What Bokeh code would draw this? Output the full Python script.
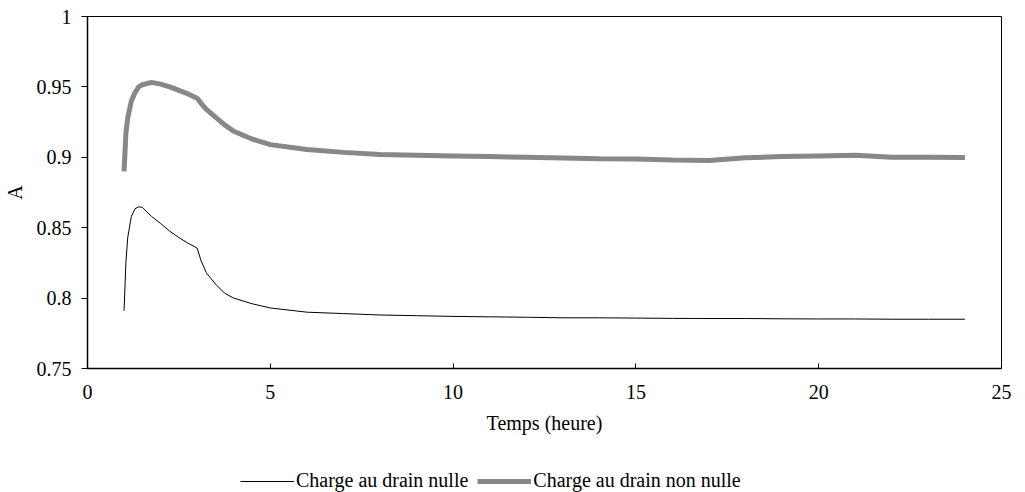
from bokeh.plotting import figure
from bokeh.models import Range1d, FixedTicker, Legend, LegendItem
from bokeh.layouts import column
from bokeh.embed import file_html
from bokeh.resources import INLINE

# Data
temps = [1.0, 1.05, 1.1, 1.2, 1.3, 1.4, 1.5, 1.75, 2.0, 2.25, 2.5, 2.75, 3.0, 3.1, 3.25, 3.5, 3.75,
         4.0, 4.5, 5, 6, 7, 8, 9, 10, 11, 12, 13, 14, 15, 16, 17, 18, 19, 20, 21, 22, 23, 24]
drain_nulle = [0.791, 0.825, 0.843, 0.858, 0.8635, 0.8648, 0.8645, 0.858, 0.853, 0.8475, 0.843, 0.839,
               0.8355, 0.827, 0.818, 0.810, 0.8035, 0.800, 0.796, 0.793, 0.790, 0.789, 0.788, 0.7875,
               0.787, 0.7867, 0.7864, 0.786, 0.786, 0.7858, 0.7856, 0.7855, 0.7855, 0.7853, 0.7852,
               0.7852, 0.785, 0.785, 0.785]
drain_non_nulle = [0.890, 0.917, 0.928, 0.940, 0.946, 0.950, 0.9515, 0.9532, 0.952, 0.950, 0.9475, 0.945,
                   0.942, 0.9385, 0.934, 0.9285, 0.923, 0.9185, 0.913, 0.909, 0.9055, 0.9035, 0.902, 0.9015,
                   0.901, 0.9005, 0.900, 0.8995, 0.899, 0.8988, 0.898, 0.8977, 0.8996, 0.9005, 0.901,
                   0.9015, 0.900, 0.900, 0.8998]
x_ticks = [0, 5, 10, 15, 20, 25]
y_ticks = [0.75, 0.8, 0.85, 0.9, 0.95, 1.0]
y_tick_labels = ["0.75", "0.8", "0.85", "0.9", "0.95", "1"]
series_names = ["Charge au drain nulle", "Charge au drain non nulle"]

FONT = "Liberation Serif"
FS = "20px"
GRAY = "#888888"

p = figure(width=1012, height=448, output_backend="svg", toolbar_location=None,
           x_range=Range1d(0, 25), y_range=Range1d(0.75, 1.0),
           min_border_left=80, min_border_right=11, min_border_top=16, min_border_bottom=80)

p.background_fill_color = "white"
p.border_fill_color = "white"
p.outline_line_color = "black"
p.outline_line_width = 1
p.xgrid.visible = False
p.ygrid.visible = False

p.line(temps, drain_nulle, line_color="black", line_width=1)
p.line(temps, drain_non_nulle, line_color=GRAY, line_width=5)

p.xaxis.ticker = FixedTicker(ticks=x_ticks)
p.yaxis.ticker = FixedTicker(ticks=y_ticks)
p.yaxis.major_label_overrides = {t: l for t, l in zip(y_ticks, y_tick_labels)}
p.xaxis.major_label_overrides = {t: str(t) for t in x_ticks}

for ax in (p.xaxis[0], p.yaxis[0]):
    ax.axis_line_color = "black"
    ax.axis_line_width = 1.5
    ax.major_tick_line_color = "black"
    ax.minor_tick_line_color = None
    ax.major_label_text_font = FONT
    ax.major_label_text_font_size = FS
    ax.major_label_text_color = "black"
    ax.axis_label_text_font = FONT
    ax.axis_label_text_font_size = FS
    ax.axis_label_text_font_style = "normal"
    ax.axis_label_text_color = "black"

p.xaxis.major_tick_in = 5
p.xaxis.major_tick_out = 0
p.xaxis.major_label_standoff = 16
p.xaxis.axis_label = "Temps (heure)"
p.xaxis.axis_label_standoff = 10

p.yaxis.major_tick_in = 0
p.yaxis.major_tick_out = 6
p.yaxis.major_label_standoff = 10
p.yaxis.axis_label = "A"
p.yaxis.axis_label_standoff = 8

# Legend strip below the chart
lg = figure(width=1012, height=44, output_backend="svg", toolbar_location=None,
            x_range=Range1d(0, 1), y_range=Range1d(0, 1),
            min_border_left=0, min_border_right=0, min_border_top=0, min_border_bottom=0)
lg.axis.visible = False
lg.xgrid.visible = False
lg.ygrid.visible = False
lg.outline_line_color = None
lg.background_fill_color = "white"
lg.border_fill_color = "white"
# proxy renderers (outside the visible range) that only feed the legend
d1 = lg.line([-5, -4], [-5, -4], line_color="black", line_width=1)
d2 = lg.line([-5, -4], [-5, -4], line_color=GRAY, line_width=5)

legend = Legend(items=[LegendItem(label=series_names[0], renderers=[d1]),
                       LegendItem(label=series_names[1], renderers=[d2])],
                orientation="horizontal", location=(153, 0))
legend.label_text_font = FONT
legend.label_text_font_size = FS
legend.label_text_color = "black"
legend.glyph_width = 54
legend.glyph_height = 20
legend.label_standoff = 2
legend.spacing = 9
legend.padding = 0
legend.margin = 0
legend.border_line_color = None
legend.background_fill_alpha = 0
lg.add_layout(legend, "center")

layout = column(p, lg, spacing=0)
open("out.html", "w").write(file_html(layout, INLINE))
